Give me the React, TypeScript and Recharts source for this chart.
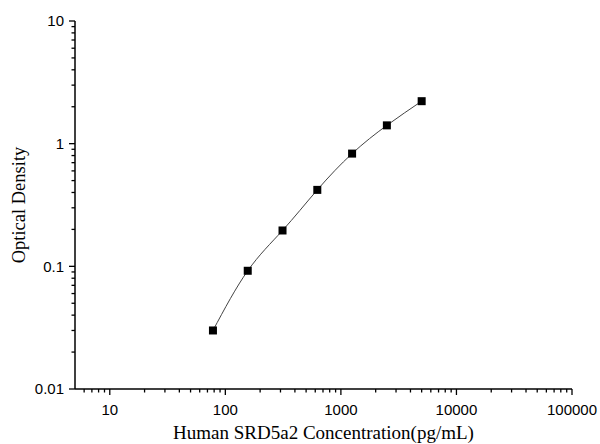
import { ComposedChart, Line, XAxis, YAxis, Label } from 'recharts';

// standard curve readings
const concentrations = [78.125, 156.25, 312.5, 625, 1250, 2500, 5000];
const densities = [0.030, 0.092, 0.196, 0.42, 0.83, 1.41, 2.22];

const X_MAJOR = [10, 100, 1000, 10000, 100000];
const Y_MAJOR = [0.01, 0.1, 1, 10];
const MINOR_STEPS = [2, 3, 4, 5, 6, 7, 8, 9];

const X_TICKS = [6, 7, 8, 9, ...X_MAJOR.slice(0, -1).flatMap(d => [d, ...MINOR_STEPS.map(m => d * m)]), 100000];
const Y_TICKS = [...Y_MAJOR.slice(0, -1).flatMap(d => [d, ...MINOR_STEPS.map(m => d * m)]), 10];

const data = concentrations.map((x, i) => ({ x, y: densities[i] }));

const TICK_FONT = '"Liberation Sans", Arial, sans-serif';
const TITLE_FONT = '"Liberation Serif", "Times New Roman", serif';

const XTick = (props: any) => {
  const { x, y, payload } = props;
  const major = X_MAJOR.includes(payload.value);
  return (
    <g>
      <line x1={x} x2={x} y1={y} y2={y + (major ? 6 : 3.5)} stroke="#000" strokeWidth={1.3} />
      {major && (
        <text x={x} y={y + 26} textAnchor="middle" fontSize={15} fontFamily={TICK_FONT} fill="#000">
          {String(payload.value)}
        </text>
      )}
    </g>
  );
};

const YTick = (props: any) => {
  const { x, y, payload } = props;
  const major = Y_MAJOR.includes(payload.value);
  return (
    <g>
      <line x1={x - (major ? 6 : 3.5)} x2={x} y1={y} y2={y} stroke="#000" strokeWidth={1.3} />
      {major && (
        <text x={x - 11} y={y} dy="0.36em" textAnchor="end" fontSize={15} fontFamily={TICK_FONT} fill="#000">
          {String(payload.value)}
        </text>
      )}
    </g>
  );
};

const SquareDot = (props: any) => {
  const { cx, cy, index } = props;
  return <rect key={`dot-${index}`} x={cx - 4} y={cy - 4} width={8} height={8} fill="#000" />;
};

export default function App() {
  return (
    <div style={{ position: 'absolute', left: 0, top: 0, width: 600, height: 444, background: '#fff' }}>
      <ComposedChart width={600} height={444} data={data} margin={{ top: 21, right: 28, left: 0, bottom: 0 }}>
        <XAxis
          dataKey="x"
          type="number"
          scale="log"
          domain={[5, 100000]}
          allowDataOverflow
          ticks={X_TICKS}
          interval={0}
          tickSize={0}
          tickMargin={0}
          tickLine={false}
          tick={<XTick />}
          height={55}
          axisLine={{ stroke: '#000', strokeWidth: 1.5 }}
        >
          <Label
            content={(p: any) => {
              const vb = p.viewBox;
              return (
                <text x={vb.x + vb.width / 2} y={vb.y + 50} textAnchor="middle" fontSize={19} fontFamily={TITLE_FONT} fill="#000">
                  Human SRD5a2 Concentration(pg/mL)
                </text>
              );
            }}
          />
        </XAxis>
        <YAxis
          dataKey="y"
          type="number"
          scale="log"
          domain={[0.01, 10]}
          allowDataOverflow
          ticks={Y_TICKS}
          interval={0}
          tickSize={0}
          tickMargin={0}
          tickLine={false}
          tick={<YTick />}
          width={75}
          axisLine={{ stroke: '#000', strokeWidth: 1.5 }}
        >
          <Label
            content={(p: any) => {
              const vb = p.viewBox;
              const cy = vb.y + vb.height / 2;
              return (
                <text x={19} y={cy} transform={`rotate(-90, 19, ${cy})`} textAnchor="middle" dy="0.35em" fontSize={18.5} fontFamily={TITLE_FONT} fill="#000">
                  Optical Density
                </text>
              );
            }}
          />
        </YAxis>
        <Line
          dataKey="y"
          type="natural"
          stroke="#444"
          strokeWidth={1}
          dot={SquareDot}
          activeDot={false}
          isAnimationActive={false}
        />
      </ComposedChart>
    </div>
  );
}
